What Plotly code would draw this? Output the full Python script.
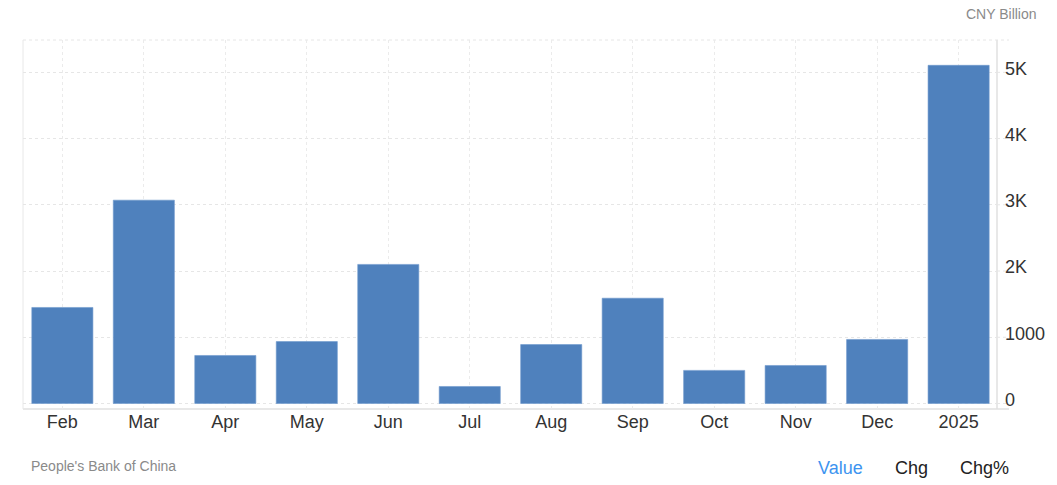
import plotly.graph_objects as go

categories = ["Feb", "Mar", "Apr", "May", "Jun", "Jul", "Aug", "Sep", "Oct", "Nov", "Dec", "2025"]
values = [1450, 3070, 725, 935, 2100, 257, 890, 1590, 500, 574, 967, 5106]
ytick_vals = [0, 1000, 2000, 3000, 4000, 5000]
ytick_text = ["0", "1000", "2K", "3K", "4K", "5K"]

FONT = "Liberation Sans, Arial, sans-serif"
PLOT_W = 977
PLOT_H = 369

fig = go.Figure()
fig.add_trace(go.Bar(
    x=list(range(len(categories))),
    y=values,
    width=0.75,
    marker=dict(color="#4f81bd", line=dict(color="#6f98cc", width=0.6)),
    hoverinfo="y",
))

fig.update_layout(
    width=1057, height=485,
    margin=dict(l=23, r=57, t=40, b=76),
    paper_bgcolor="white", plot_bgcolor="white",
    showlegend=False,
    font=dict(family=FONT, size=17, color="#333333"),
    bargap=0.25,
    xaxis=dict(
        range=[-0.483, 11.471],
        tickmode="array",
        tickvals=list(range(len(categories))),
        ticktext=categories,
        showgrid=True, gridcolor="#ebebeb", griddash="dot", gridwidth=1,
        showline=False, zeroline=False,
        ticks="", tickfont=dict(size=18, color="#333333"),
        fixedrange=True,
    ),
    yaxis=dict(
        side="right",
        range=[-83, 5488],
        tickmode="array",
        tickvals=ytick_vals,
        ticktext=ytick_text,
        showgrid=True, gridcolor="#e6e6e6", griddash="dot", gridwidth=1,
        zeroline=False, showline=False,
        ticks="", ticklabelstandoff=7, ticklabelshift=-4,
        tickfont=dict(size=18, color="#333333"),
        fixedrange=True,
    ),
)

ext = 12 / PLOT_W
# plot frame: bottom axis line, right border, top dotted, left solid
fig.add_shape(type="line", xref="paper", yref="paper", x0=0, x1=1 + ext, y0=0, y1=0,
              line=dict(color="#e0e0e0", width=1.5), layer="below")
fig.add_shape(type="line", xref="paper", yref="paper", x0=1, x1=1, y0=0, y1=1,
              line=dict(color="#e0e0e0", width=1.5), layer="below")
fig.add_shape(type="line", xref="paper", yref="paper", x0=0, x1=1 + ext, y0=1, y1=1,
              line=dict(color="#e6e6e6", width=1, dash="dot"), layer="below")
fig.add_shape(type="line", xref="paper", yref="paper", x0=0, x1=0, y0=0, y1=1,
              line=dict(color="#e8e8e8", width=1), layer="below")
# gridline stubs extending past the right border
for v in ytick_vals:
    fig.add_shape(type="line", xref="paper", yref="y", x0=1, x1=1 + ext, y0=v, y1=v,
                  line=dict(color="#e6e6e6", width=1, dash="dot"), layer="below")

fig.add_annotation(text="CNY Billion", xref="paper", yref="paper",
                   x=(1042 - 23) / PLOT_W, y=1 + (40 - 14) / PLOT_H, xanchor="right", yanchor="middle",
                   showarrow=False, font=dict(size=14, color="#8a8a8a", family=FONT))
fig.add_annotation(text="People's Bank of China", xref="paper", yref="paper",
                   x=(29 - 23) / PLOT_W, y=-(466 - 409) / PLOT_H, xanchor="left", yanchor="middle",
                   showarrow=False, font=dict(size=14, color="#8a8a8a", family=FONT))
fig.add_annotation(text="Value", xref="paper", yref="paper",
                   x=(818 - 23) / PLOT_W, y=-(468 - 409) / PLOT_H, xanchor="left", yanchor="middle",
                   showarrow=False, font=dict(size=18, color="#3d94f0", family=FONT))
fig.add_annotation(text="Chg", xref="paper", yref="paper",
                   x=(896 - 23) / PLOT_W, y=-(468 - 409) / PLOT_H, xanchor="left", yanchor="middle",
                   showarrow=False, font=dict(size=18, color="#222222", family=FONT))
fig.add_annotation(text="Chg%", xref="paper", yref="paper",
                   x=(961 - 23) / PLOT_W, y=-(468 - 409) / PLOT_H, xanchor="left", yanchor="middle",
                   showarrow=False, font=dict(size=18, color="#222222", family=FONT))

fig.write_html(
    "out.html",
    config={"displayModeBar": False},
    post_script="document.body.style.margin='0';document.body.style.overflow='hidden';",
)
